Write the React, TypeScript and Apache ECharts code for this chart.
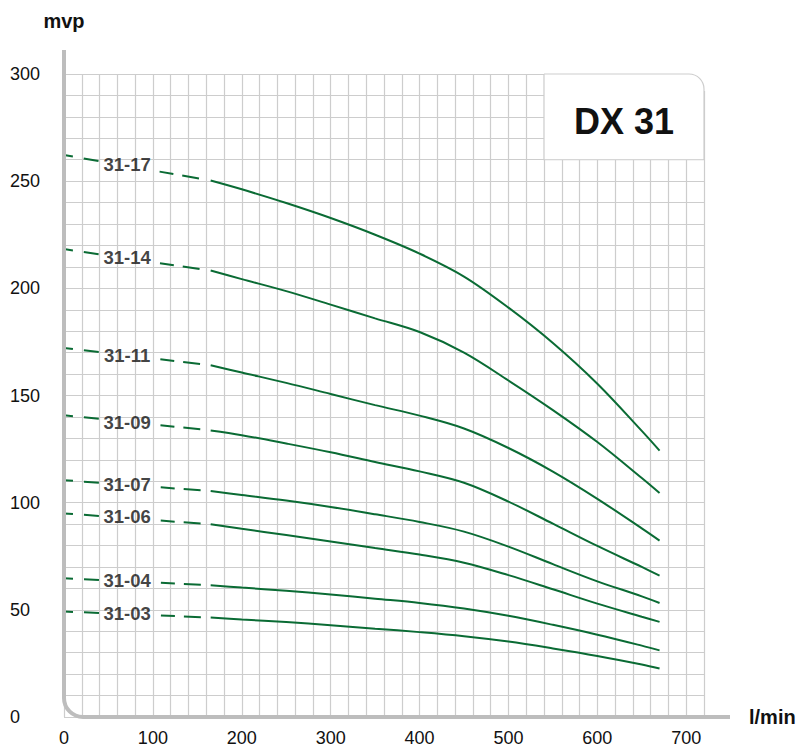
import React, { useEffect, useRef } from "react";
import * as echarts from "echarts";

// ---------- data ----------
const curveNames = ["31-17", "31-14", "31-11", "31-09", "31-07", "31-06", "31-04", "31-03"];
// head at zero flow (start of the dashed part)
const shutoffHead = [262.2, 218.3, 172.2, 140.8, 110.5, 95, 64.7, 49.2];
// flow points of the solid part (l/min)
const flowPoints = [165, 200, 250, 300, 350, 400, 450, 500, 550, 600, 650, 670];
const head3117 = [250.3, 246.2, 239.8, 232.8, 225, 216.2, 205.5, 191, 174.5, 155.5, 133.5, 124.3];
const head3114 = [208.3, 204.3, 198.7, 192.4, 186, 179.6, 170, 157, 143.2, 128.3, 111.5, 104.5];
const head3111 = [164.1, 160.7, 155.9, 150.7, 145.5, 140.6, 134.6, 125.5, 114.5, 101.8, 88, 82.3];
const head3109 = [133.7, 131.5, 127.6, 123.5, 119, 114.6, 109.3, 100.5, 90.2, 79.8, 70, 66];
const head3107 = [105.4, 103.6, 101, 98, 94.6, 91, 86.5, 79.5, 71.3, 63.3, 56.3, 53.2];
const head3106 = [89.9, 87.8, 84.9, 81.9, 78.8, 75.8, 72, 66.2, 59.6, 52.9, 46.8, 44.4];
const head3104 = [61.5, 60.4, 58.9, 57.2, 55.2, 53.2, 50.6, 47.2, 43, 38.4, 33.3, 31.1];
const head3103 = [46.4, 45.5, 44.3, 42.8, 41.2, 39.6, 37.7, 35.2, 32, 28.5, 24.5, 22.6];
const solidHeads = [head3117, head3114, head3111, head3109, head3107, head3106, head3104, head3103];
// label anchor positions
const labelFlow = 71;
const labelHead = [257.6, 214.6, 168.6, 137.5, 108.5, 93.5, 63.5, 48.4];
// axes
const xMax = 720;
const yMax = 300;
const xLabelStep = 100;
const yLabelStep = 50;
const modelTitle = "DX 31";

const FONT = '"Liberation Sans", Arial, sans-serif';
const GREEN = "#0a6b34";
const GRID = "#cdcdcd";
const AXIS = "#bdbdbd";

export default function App() {
  const ref = useRef<HTMLDivElement>(null);

  useEffect(() => {
    if (!ref.current) return;
    const chart = echarts.init(ref.current, undefined, { renderer: "svg" });

    const series: any[] = [];
    curveNames.forEach((name, i) => {
      const solid = solidHeads[i];
      series.push({
        type: "line",
        name: name + " dashed",
        data: [
          [0, shutoffHead[i]],
          [flowPoints[0], solid[0]],
        ],
        symbol: "none",
        silent: true,
        lineStyle: { color: GREEN, width: 2, type: [9, 11, 15, 62, 14, 9, 17, 12] },
        z: 3,
      });
      series.push({
        type: "line",
        name,
        data: flowPoints.map((x, j) => [x, solid[j]]),
        symbol: "none",
        smooth: 0.35,
        silent: true,
        lineStyle: { color: GREEN, width: 2 },
        z: 3,
      });
    });
    series.push({
      type: "scatter",
      data: curveNames.map((n, i) => ({ name: n, value: [labelFlow, labelHead[i]] })),
      symbolSize: 1,
      itemStyle: { color: "rgba(0,0,0,0)" },
      silent: true,
      z: 5,
      label: {
        show: true,
        position: "inside",
        formatter: "{b}",
        fontFamily: FONT,
        fontSize: 18.5,
        fontWeight: "bold",
        color: "#111",
      },
    });

    chart.setOption({
      animation: false,
      backgroundColor: "#ffffff",
      grid: { left: 64, top: 74, right: 99, bottom: 29, containLabel: false },
      xAxis: {
        type: "value",
        min: 0,
        max: xMax,
        interval: 20,
        axisLine: { show: false },
        axisTick: { show: false },
        splitLine: { show: true, lineStyle: { color: GRID, width: 1.2 } },
        axisLabel: {
          formatter: (v: number) => (v % xLabelStep === 0 ? String(v) : ""),
          margin: 12,
          fontSize: 18,
          color: "#111",
          fontFamily: FONT,
        },
        name: "l/min",
        nameLocation: "end",
        nameGap: 45,
        nameTextStyle: {
          fontSize: 20,
          fontWeight: "bold",
          color: "#111",
          fontFamily: FONT,
          align: "left",
          verticalAlign: "middle",
        },
      },
      yAxis: {
        type: "value",
        min: 0,
        max: yMax,
        interval: 10,
        axisLine: { show: false },
        axisTick: { show: false },
        splitLine: { show: true, lineStyle: { color: GRID, width: 1.2 } },
        axisLabel: {
          formatter: (v: number) => (v % yLabelStep === 0 ? String(v) : ""),
          margin: 54,
          align: "left",
          fontSize: 18,
          color: "#111",
          fontFamily: FONT,
        },
        name: "mvp",
        nameLocation: "end",
        nameGap: 53,
        nameTextStyle: {
          fontSize: 20,
          fontWeight: "bold",
          color: "#111",
          fontFamily: FONT,
          align: "center",
          verticalAlign: "middle",
        },
      },
      series,
    });

    const px = (x: number, y: number) => chart.convertToPixel({ gridIndex: 0 }, [x, y]) as number[];
    const o = px(0, 0);
    const tr = px(xMax, yMax);
    const boxTL = px(540, yMax);
    const boxBR = px(xMax, 260);
    const r = 19;

    chart.setOption({
      graphic: [
        {
          type: "rect",
          z: 1,
          silent: true,
          shape: { x: tr[0] - 16, y: tr[1] - 3, width: 20, height: 20 },
          style: { fill: "#ffffff" },
        },
        {
          type: "rect",
          z: 2,
          silent: true,
          shape: {
            x: boxTL[0],
            y: boxTL[1],
            width: boxBR[0] - boxTL[0],
            height: boxBR[1] - boxTL[1],
            r: [0, 15, 0, 0],
          },
          style: { fill: "#ffffff", stroke: GRID, lineWidth: 1.2 },
        },
        {
          type: "text",
          z: 3,
          silent: true,
          x: (boxTL[0] + boxBR[0]) / 2,
          y: (boxTL[1] + boxBR[1]) / 2 + 5,
          style: {
            text: modelTitle,
            fontFamily: FONT,
            fontSize: 36,
            fontWeight: "bold",
            fill: "#111",
            textAlign: "center",
            textVerticalAlign: "middle",
          },
        },
        {
          type: "line",
          z: 10,
          silent: true,
          shape: { x1: o[0], y1: tr[1] - 24, x2: o[0], y2: o[1] - r },
          style: { stroke: AXIS, lineWidth: 4 },
        },
        {
          type: "arc",
          z: 10,
          silent: true,
          shape: { cx: o[0] + r, cy: o[1] - r, r, startAngle: Math.PI / 2, endAngle: Math.PI },
          style: { stroke: AXIS, lineWidth: 4, fill: "none" },
        },
        {
          type: "line",
          z: 10,
          silent: true,
          shape: { x1: o[0] + r, y1: o[1], x2: tr[0] + 26, y2: o[1] },
          style: { stroke: AXIS, lineWidth: 4 },
        },
      ],
    });

    return () => chart.dispose();
  }, []);

  return (
    <div
      ref={ref}
      style={{ position: "fixed", left: 0, top: 0, width: 803, height: 747, background: "#fff" }}
    />
  );
}
